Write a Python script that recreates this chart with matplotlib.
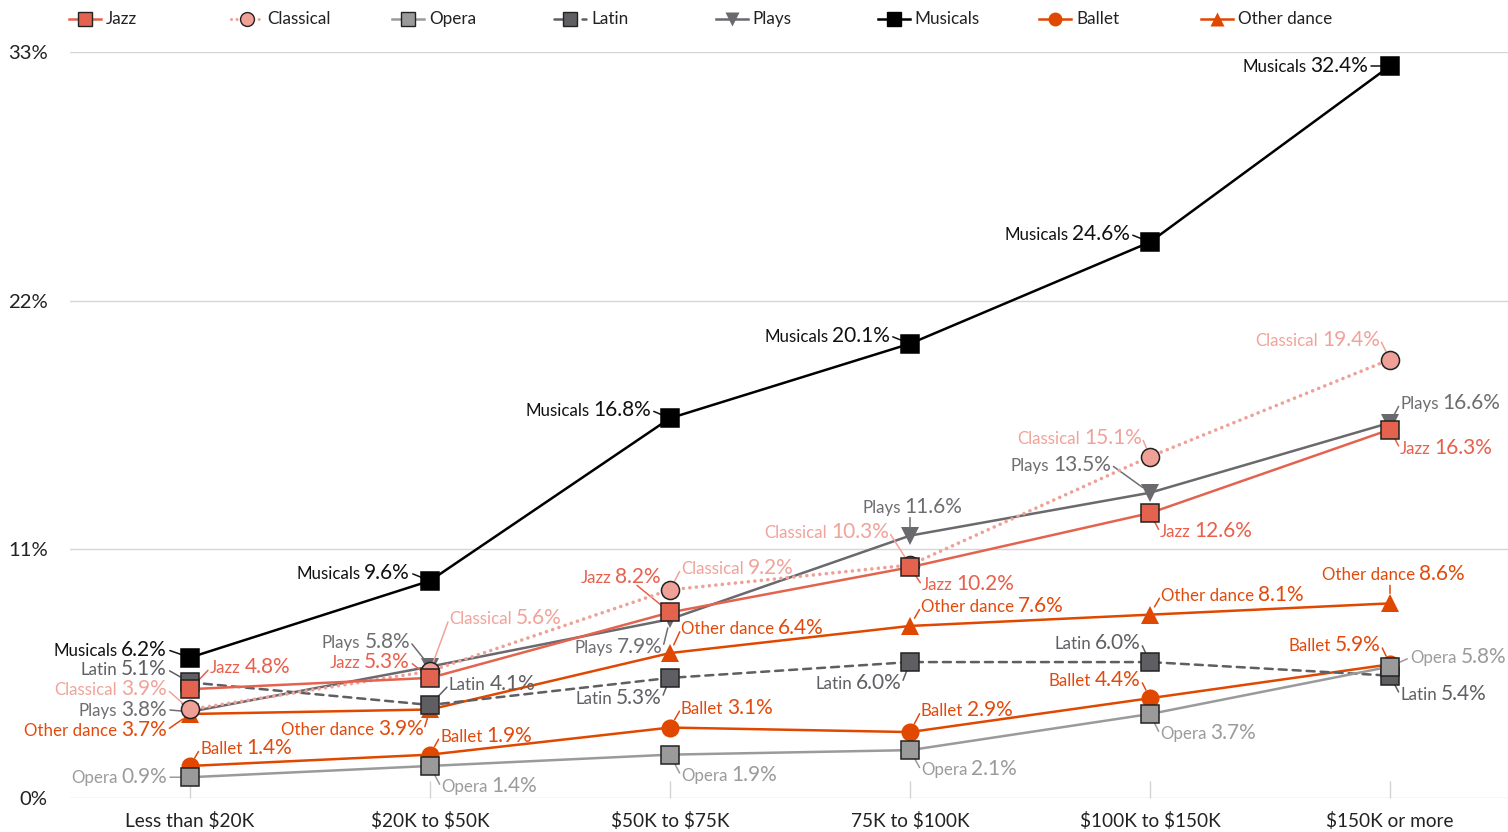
"""Arts attendance share by household income — line chart with direct labels"""

import matplotlib
matplotlib.use('Agg')
import matplotlib.pyplot as plt
from matplotlib.lines import Line2D
import numpy as np

plt.rcParams['font.family'] = ['Lato', 'DejaVu Sans']
plt.rcParams['text.parse_math'] = False

W, H, DPI = 1508, 832, 100

# ===== data =====
categories = ['Less than $20K', '$20K to $50K', '$50K to $75K',
              '75K to $100K', '$100K to $150K', '$150K or more']
jazz = [4.8, 5.3, 8.2, 10.2, 12.6, 16.3]
classical = [3.9, 5.6, 9.2, 10.3, 15.1, 19.4]
opera = [0.9, 1.4, 1.9, 2.1, 3.7, 5.8]
latin = [5.1, 4.1, 5.3, 6.0, 6.0, 5.4]
plays = [3.8, 5.8, 7.9, 11.6, 13.5, 16.6]
musicals = [6.2, 9.6, 16.8, 20.1, 24.6, 32.4]
ballet = [1.4, 1.9, 3.1, 2.9, 4.4, 5.9]
other_dance = [3.7, 3.9, 6.4, 7.6, 8.1, 8.6]
y_ticks = [0, 11, 22, 33]

# ===== label offsets (px, y down): dx, dy, side [, leader end, leader gap] =====
jazz_pos = [(20, -21, 'l'), (-20, -16, 'r'), (-9, -35, 'r', (-33, -27), 9), (12, 18, 'l'), (10, 19, 'l'), (10, 19, 'l')]
classical_pos = [(-23, -20, 'r'), (19, -52, 'l'), (11, -21, 'l'), (-21, -33, 'r'), (-8, -19, 'r'), (-10, -20, 'r')]
opera_pos = [(-23, 0, 'r'), (11, 21, 'l'), (11, 21, 'l'), (11, 20, 'l'), (10, 20, 'l'), (20, -9, 'l')]
latin_pos = [(-23, -13, 'r'), (19, -20, 'l'), (-8, 20, 'r'), (-8, 21, 'r'), (-9, -19, 'r'), (10, 19, 'l')]
plays_pos = [(-23, -2, 'r'), (-20, -25, 'r'), (-7, 28, 'r'), (-48, -28, 'l', (0, -18), 8), (-39, -28, 'r'), (10, -19, 'l')]
musicals_pos = [(-23, -8, 'r'), (-20, -8, 'r'), (-19, -8, 'r'), (-20, -8, 'r'), (-20, -8, 'r'), (-22, 0, 'r')]
ballet_pos = [(10, -17, 'l'), (10, -18, 'l'), (11, -19, 'l'), (11, -21, 'l'), (-9, -18, 'r'), (-9, -19, 'r')]
other_pos = [(-23, 16, 'r'), (-6, 20, 'r'), (11, -24, 'l'), (11, -19, 'l'), (11, -19, 'l'), (-68, -28, 'l', (0, -18), 10)]

# name, values, line color, text color, marker, ms, edge, linestyle, zorder, label pos
SERIES = [
    ('Jazz', jazz, '#e4634f', '#e8604c', 's', 12.5, '#222222', '-', 8, jazz_pos),
    ('Classical', classical, '#efa097', '#f0a39a', 'o', 13, '#222222', (0, (0.01, 1.8)), 7, classical_pos),
    ('Opera', opera, '#9a9a9a', '#9b9b9b', 's', 12.5, '#222222', '-', 6, opera_pos),
    ('Latin', latin, '#5e5e63', '#5f5f64', 's', 12.5, '#222222', (0, (3.2, 2.4)), 4, latin_pos),
    ('Plays', plays, '#69696e', '#6e6e72', 'v', 13, 'none', '-', 2, plays_pos),
    ('Musicals', musicals, '#000000', '#111111', 's', 12.5, '#000000', '-', 5, musicals_pos),
    ('Ballet', ballet, '#e04800', '#e24a0c', 'o', 13, 'none', '-', 3, ballet_pos),
    ('Other dance', other_dance, '#e04800', '#e24a0c', '^', 13, 'none', '-', 3, other_pos),
]

NAME_FS = 12.2
VAL_FS = 15


def add_label(ax, xi, v, name, color, spec):
    """名称 + 数值 两段文字, 再加一条短引线"""
    dx, dy, side = spec[:3]
    val = f'{v:.1f}%'
    if side == 'r':
        main = ax.annotate(val, xy=(xi, v), xytext=(dx, -dy), textcoords='offset pixels',
                           ha='right', va='center', fontsize=VAL_FS, color=color,
                           zorder=12, annotation_clip=False)
        ax.annotate(name, xy=(0, 0), xycoords=main, xytext=(-4, 1), textcoords='offset pixels',
                    ha='right', va='bottom', fontsize=NAME_FS, color=color, zorder=12)
    else:
        main = ax.annotate(name, xy=(xi, v), xytext=(dx, -dy), textcoords='offset pixels',
                           ha='left', va='center', fontsize=NAME_FS, color=color,
                           zorder=12, annotation_clip=False)
        ax.annotate(val, xy=(1, 0), xycoords=main, xytext=(4, -1), textcoords='offset pixels',
                    ha='left', va='bottom', fontsize=VAL_FS, color=color, zorder=12)
    if len(spec) > 3:
        end, gap = spec[3], spec[4]
    else:
        d = np.hypot(dx, dy)
        end = (dx - 3 * dx / d, dy - 3 * dy / d)
        gap = 9
    ax.annotate('', xy=(xi, v), xytext=(end[0], -end[1]), textcoords='offset pixels',
                annotation_clip=False,
                arrowprops=dict(arrowstyle='-', color=color, lw=1.1,
                                shrinkA=0, shrinkB=gap * 0.72))


fig = plt.figure(figsize=(W / DPI, H / DPI), dpi=DPI)
fig.patch.set_facecolor('white')
ax = fig.add_axes([70 / W, 1 - 798 / H, 1 - 70 / W, (798 - 52) / H])

x = np.arange(len(categories))
for name, vals, lc, tc, mk, ms, mec, ls, z, pos in SERIES:
    ax.plot(x, vals, color=lc, lw=2.6 if name == 'Classical' else 1.8, ls=ls,
            dash_capstyle='round', marker=mk, ms=ms, mfc=lc, mec=mec, mew=1.1,
            zorder=z, clip_on=False)
    for xi, v in enumerate(vals):
        add_label(ax, xi, v, name, tc, pos[xi])

ax.set_xlim(-0.5, (1508 - 190) / 240)
ax.set_ylim(-0.02, 33.02)
ax.set_xticks(x, categories)
ax.set_yticks(y_ticks, [f'{t}%' for t in y_ticks])
ax.tick_params(axis='x', direction='in', length=12, width=1, color='#d4d4d4',
               labelsize=13.7, labelcolor='#222222', pad=10)
ax.tick_params(axis='y', length=0, labelsize=14.6, labelcolor='#222222', pad=16)
ax.grid(axis='y', color='#d6d6d6', lw=1)
ax.set_axisbelow(True)
for s in ax.spines.values():
    s.set_visible(False)

# ===== 图例 (手工排布, 等间距) =====
for i, (name, vals, lc, tc, mk, ms, mec, ls, z, pos) in enumerate(SERIES):
    cx = 85 + 161.7 * i
    cy = 1 - 19 / H
    fig.add_artist(Line2D([(cx - 16) / W, (cx + 16) / W], [cy, cy], transform=fig.transFigure,
                          color=lc, lw=2.2 if name == 'Classical' else 1.8, ls=ls,
                          dash_capstyle='round'))
    fig.add_artist(Line2D([cx / W], [cy], transform=fig.transFigure, marker=mk, ms=10,
                          mfc=lc, mec=mec, mew=1.0, ls='none'))
    fig.text((cx + 21) / W, cy, name, ha='left', va='center', fontsize=12.3, color='#222222')

fig.savefig('out.png', dpi=DPI, facecolor='white')
